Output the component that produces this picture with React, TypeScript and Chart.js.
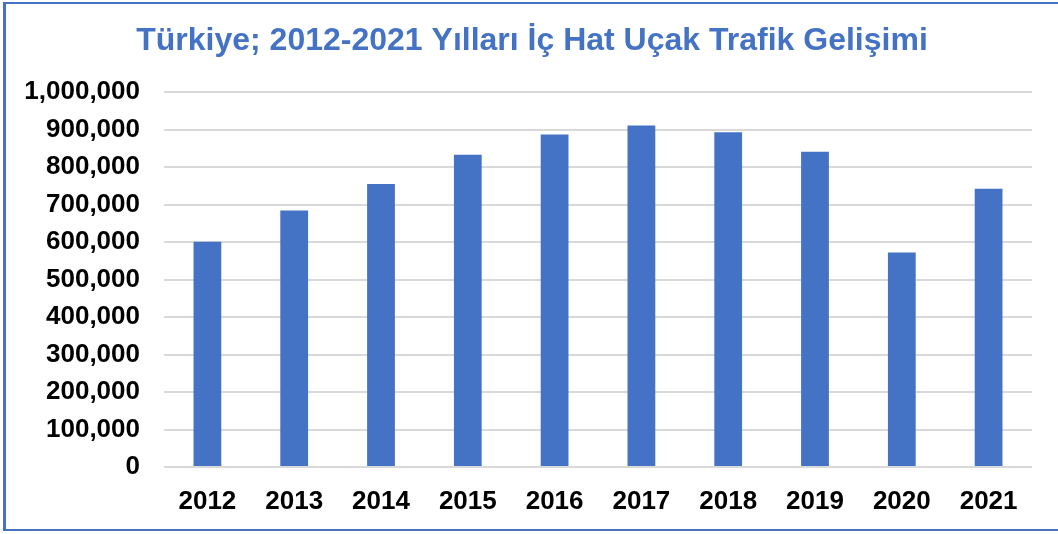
import React, { useEffect, useRef } from "react";
import { Chart, registerables } from "chart.js";

Chart.register(...registerables);

const TITLE = "Türkiye; 2012-2021 Yılları İç Hat Uçak Trafik Gelişimi";
const YEARS = ["2012", "2013", "2014", "2015", "2016", "2017", "2018", "2019", "2020", "2021"];
const FLIGHTS = [601000, 684000, 755000, 833000, 887000, 911000, 893000, 841000, 572000, 742000];
const Y_MAX = 1000000;
const Y_STEP = 100000;

const BLUE = "#4472C4";
const FONT = "'Liberation Sans', Arial, sans-serif";

const titlePlugin = {
  id: "centeredTitle",
  afterDraw(chart: any) {
    const ctx = chart.ctx;
    ctx.save();
    ctx.font = `bold 32px ${FONT}`;
    ctx.fillStyle = BLUE;
    ctx.textAlign = "center";
    ctx.textBaseline = "middle";
    ctx.fillText(TITLE, 532, 41);
    ctx.restore();
  },
};

export default function App() {
  const ref = useRef<HTMLCanvasElement | null>(null);

  useEffect(() => {
    if (!ref.current) return;
    const chart = new Chart(ref.current, {
      type: "bar",
      data: {
        labels: YEARS,
        datasets: [
          {
            data: FLIGHTS,
            backgroundColor: BLUE,
            borderWidth: 0,
            categoryPercentage: 1,
            barPercentage: 0.32,
          },
        ],
      },
      options: {
        animation: false,
        responsive: false,
        devicePixelRatio: 1,
        layout: { padding: { left: 0, right: 26, top: 92, bottom: 0 } },
        plugins: {
          legend: { display: false },
          tooltip: { enabled: false },
          title: { display: false },
        },
        scales: {
          x: {
            grid: { display: false },
            border: { display: false },
            ticks: {
              color: "#000",
              font: { family: FONT, size: 26, weight: "bold" },
              padding: 11,
              maxRotation: 0,
            },
            afterFit: (s: any) => {
              s.height = 67;
            },
          },
          y: {
            min: 0,
            max: Y_MAX,
            grid: { color: "#d9d9d9", lineWidth: 2, drawTicks: false },
            border: { display: false },
            ticks: {
              stepSize: Y_STEP,
              color: "#000",
              padding: 24,
              font: { family: FONT, size: 26, weight: "bold" },
              callback: (v: any) => Number(v).toLocaleString("en-US"),
            },
            afterFit: (s: any) => {
              s.width = 164;
            },
          },
        },
      },
      plugins: [titlePlugin],
    });
    return () => chart.destroy();
  }, []);

  return (
    <div
      style={{
        position: "fixed",
        left: 0,
        top: 0,
        width: 1058,
        height: 534,
        background: "#fff",
        overflow: "hidden",
      }}
    >
      <canvas ref={ref} width={1058} height={534} style={{ display: "block" }} />
      <div
        style={{
          position: "absolute",
          left: 3,
          top: 2,
          width: 1070,
          height: 529,
          boxSizing: "border-box",
          borderLeft: `3px solid ${BLUE}`,
          borderTop: `2px solid ${BLUE}`,
          borderBottom: `2px solid ${BLUE}`,
          pointerEvents: "none",
        }}
      />
    </div>
  );
}
